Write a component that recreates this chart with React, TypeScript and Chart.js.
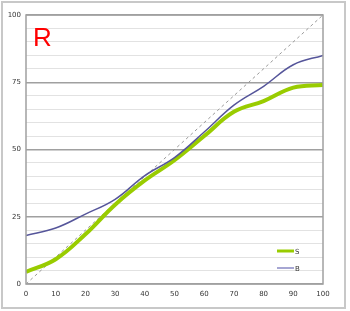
import React, { useEffect, useRef } from "react";
import { Chart, registerables } from "chart.js";

Chart.register(...registerables);

const xValues = [0, 10, 20, 30, 40, 50, 60, 70, 80, 90, 100];
const seriesS = [4.5, 9.2, 18.5, 29.5, 38.5, 46, 55, 64, 68, 73, 74];
const seriesB = [18, 20.8, 26, 31.5, 40.3, 47, 56.5, 66.5, 73.5, 81.5, 85];
const diagonal = [0, 100];
const labelS = "S";
const labelB = "B";
const titleText = "R";
const yMajor = [0, 25, 50, 75, 100];

const frame = {
  id: "frame",
  beforeDraw(chart: any) {
    const ctx = chart.ctx;
    ctx.save();
    ctx.strokeStyle = "#c8c8c8";
    ctx.lineWidth = 2;
    ctx.strokeRect(2, 2, 343, 306);
    ctx.restore();
  },
  afterDatasetsDraw(chart: any) {
    const { ctx, chartArea } = chart;
    ctx.save();
    ctx.strokeStyle = "#a0a0a0";
    ctx.lineWidth = 1.5;
    ctx.strokeRect(chartArea.left, chartArea.top, chartArea.right - chartArea.left, chartArea.bottom - chartArea.top);
    // title
    ctx.fillStyle = "#ff0000";
    ctx.font = "26px 'Liberation Sans', Arial, sans-serif";
    ctx.textBaseline = "alphabetic";
    ctx.textAlign = "left";
    ctx.fillText(titleText, chartArea.left + 7, chartArea.top + 31);
    // legend
    const items = chart.data.datasets.filter((d: any) => !d.hideLegend);
    items.forEach((d: any, i: number) => {
      const y = chartArea.bottom - 33 + i * 17;
      ctx.strokeStyle = d.legendColor || d.borderColor;
      ctx.lineWidth = d.legendWidth || d.borderWidth;
      ctx.setLineDash([]);
      ctx.beginPath();
      ctx.moveTo(chartArea.right - 46, y);
      ctx.lineTo(chartArea.right - 29, y);
      ctx.stroke();
      ctx.fillStyle = "#333";
      ctx.font = "7px 'DejaVu Sans', Verdana, sans-serif";
      ctx.textBaseline = "middle";
      ctx.fillText(d.label, chartArea.right - 28, y + 1);
    });
    ctx.restore();
  },
};

export default function App() {
  const ref = useRef<HTMLCanvasElement>(null);
  useEffect(() => {
    document.body.style.margin = "0";
    const tickFont = { size: 7, family: "'DejaVu Sans', Verdana, sans-serif" };
    const chart = new Chart(ref.current!, {
      type: "line",
      data: {
        datasets: [
          {
            label: "diag",
            hideLegend: true,
            data: diagonal.map((v) => ({ x: v, y: v })),
            borderColor: "#999999",
            borderWidth: 1,
            borderDash: [3, 3],
            pointRadius: 0,
            tension: 0,
            order: 3,
          } as any,
          {
            label: labelS,
            data: xValues.map((x, i) => ({ x, y: seriesS[i] })),
            borderColor: "#99cc00",
            borderWidth: 4,
            legendWidth: 3,
            pointRadius: 0,
            tension: 0.4,
            order: 2,
          } as any,
          {
            label: labelB,
            data: xValues.map((x, i) => ({ x, y: seriesB[i] })),
            borderColor: "#55559a",
            legendColor: "#8888c4",
            borderWidth: 1.5,
            pointRadius: 0,
            tension: 0.4,
            order: 1,
          } as any,
        ],
      },
      options: {
        animation: false,
        responsive: false,
        layout: { padding: { top: 15, right: 27, left: 0, bottom: 0 } },
        plugins: { legend: { display: false }, tooltip: { enabled: false } },
        scales: {
          x: {
            type: "linear",
            min: 0,
            max: 100,
            afterFit: (s: any) => {
              s.height = 27;
            },
            ticks: {
              stepSize: 10,
              padding: 6,
              maxRotation: 0,
              color: "#333",
              font: tickFont,
            },
            grid: { display: false, drawTicks: false },
            border: { display: false },
          },
          y: {
            type: "linear",
            min: 0,
            max: 100,
            afterFit: (s: any) => {
              s.width = 26;
            },
            ticks: {
              stepSize: 5,
              padding: 5,
              autoSkip: false,
              color: "#333",
              font: tickFont,
              callback: (v: any) => (yMajor.includes(Number(v)) ? String(v) : ""),
            },
            grid: {
              drawTicks: false,
              color: (c: any) => (yMajor.includes(c.tick?.value) ? "#a0a0a0" : "#e2e2e2"),
              lineWidth: (c: any) => (yMajor.includes(c.tick?.value) ? 1.5 : 1),
            },
            border: { display: false },
          },
        },
      },
      plugins: [frame],
    } as any);
    return () => chart.destroy();
  }, []);
  return <canvas ref={ref} width={350} height={311} style={{ display: "block" }} />;
}
